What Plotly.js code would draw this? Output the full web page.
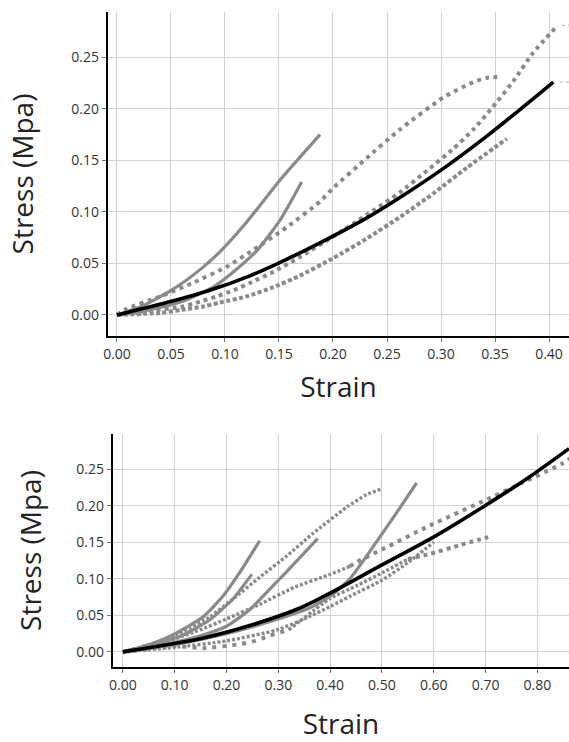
<!DOCTYPE html>
<html>
<head>
<meta charset="utf-8">
<script src="https://cdn.plot.ly/plotly-3.0.1.min.js"></script>
<style>html,body{margin:0;padding:0;background:#fff;}#chart{width:569px;height:742px;}</style>
</head>
<body>
<div id="chart"></div>
<script>
// ---------- Top panel data (strain, stress MPa) ----------
const topT1x = [0, 0.024, 0.052, 0.077, 0.095, 0.120, 0.151, 0.188];
const topT1y = [0, 0.009, 0.025, 0.044, 0.061, 0.090, 0.131, 0.175];
const topT2x = [0, 0.030, 0.060, 0.089, 0.108, 0.130, 0.151, 0.171];
const topT2y = [0, 0.005, 0.013, 0.027, 0.042, 0.063, 0.092, 0.129];
const topT3x = [0, 0.009, 0.040, 0.070, 0.102, 0.126, 0.157, 0.188, 0.200, 0.231, 0.262, 0.302, 0.330, 0.342, 0.352];
const topT3y = [0, 0.006, 0.018, 0.031, 0.047, 0.063, 0.085, 0.110, 0.123, 0.152, 0.180, 0.211, 0.226, 0.230, 0.231];
const topT4x = [0, 0.030, 0.060, 0.077, 0.092, 0.108, 0.123, 0.145, 0.169, 0.200, 0.231, 0.262, 0.287, 0.311, 0.330, 0.348, 0.367, 0.385, 0.408];
const topT4y = [0, 0.004, 0.008, 0.013, 0.018, 0.024, 0.031, 0.042, 0.056, 0.076, 0.097, 0.119, 0.140, 0.161, 0.180, 0.202, 0.227, 0.254, 0.281];
const topT5x = [0, 0.040, 0.060, 0.079, 0.095, 0.120, 0.145, 0.169, 0.200, 0.231, 0.262, 0.293, 0.324, 0.361];
const topT5y = [0, 0.002, 0.005, 0.008, 0.012, 0.018, 0.027, 0.038, 0.055, 0.074, 0.095, 0.118, 0.143, 0.171];
const topFitX = [0, 0.046, 0.086, 0.123, 0.157, 0.188, 0.231, 0.262, 0.302, 0.343, 0.404];
const topFitY = [0, 0.012, 0.024, 0.038, 0.054, 0.070, 0.094, 0.114, 0.142, 0.174, 0.226];
const topExtAx = [0.412, 0.42];
const topExtAy = [0.281, 0.281];
const topExtBx = [0.410, 0.42];
const topExtBy = [0.226, 0.226];

// ---------- Bottom panel data ----------
const botB1x = [0, 0.052, 0.104, 0.155, 0.193, 0.226, 0.264];
const botB1y = [0, 0.010, 0.026, 0.048, 0.076, 0.109, 0.152];
const botB2x = [0, 0.060, 0.116, 0.168, 0.212, 0.249];
const botB2y = [0, 0.010, 0.023, 0.044, 0.072, 0.106];
const botB3x = [0, 0.060, 0.116, 0.168, 0.212, 0.264, 0.316, 0.367, 0.432, 0.470, 0.500];
const botB3y = [0, 0.012, 0.028, 0.048, 0.072, 0.102, 0.131, 0.162, 0.198, 0.215, 0.223];
const botB5x = [0, 0.080, 0.150, 0.200, 0.245, 0.303, 0.376];
const botB5y = [0, 0.010, 0.022, 0.035, 0.058, 0.100, 0.155];
const botB4x = [0, 0.100, 0.200, 0.300, 0.360, 0.400, 0.438, 0.490, 0.528, 0.567];
const botB4y = [0, 0.010, 0.025, 0.045, 0.060, 0.076, 0.100, 0.151, 0.190, 0.231];
const botB6x = [0, 0.050, 0.100, 0.149, 0.200, 0.264, 0.330, 0.400, 0.438];
const botB6y = [0, 0.008, 0.018, 0.030, 0.045, 0.065, 0.088, 0.106, 0.117];
const botB6sx = [0.438, 0.452, 0.500, 0.593, 0.695, 0.761, 0.849, 0.870];
const botB6sy = [0.117, 0.123, 0.140, 0.173, 0.206, 0.228, 0.258, 0.268];
const botB8sx0 = [0, 0.050, 0.100, 0.155, 0.220, 0.250, 0.283, 0.320];
const botB8sy0 = [0, 0.004, 0.008, 0.005, 0.010, 0.014, 0.022, 0.030];
const botB8x = [0.320, 0.400, 0.450, 0.500, 0.550];
const botB8y = [0.030, 0.073, 0.090, 0.108, 0.127];
const botB8sx = [0.550, 0.593, 0.650, 0.705];
const botB8sy = [0.127, 0.134, 0.146, 0.157];
const botB9x = [0, 0.100, 0.200, 0.297, 0.350, 0.400, 0.438, 0.500, 0.550, 0.600];
const botB9y = [0, 0.006, 0.015, 0.030, 0.045, 0.062, 0.076, 0.098, 0.122, 0.150];
const botFitX = [0, 0.052, 0.149, 0.245, 0.342, 0.399, 0.500, 0.602, 0.699, 0.786, 0.861];
const botFitY = [0, 0.006, 0.018, 0.036, 0.060, 0.080, 0.119, 0.158, 0.200, 0.240, 0.278];

const GRAY = '#8a8a8a';
const FONT = 'Open Sans, sans-serif';
const SM = 0.55;

function solid(x, y, ax) {
  return {x, y, xaxis: ax[0], yaxis: ax[1], mode: 'lines', type: 'scatter',
    line: {color: GRAY, width: 3.2, shape: 'spline', smoothing: SM}, hoverinfo: 'skip', showlegend: false};
}
function dotted(x, y, ax, gap) {
  return {x, y, xaxis: ax[0], yaxis: ax[1], mode: 'lines', type: 'scatter',
    line: {color: GRAY, width: 4, shape: 'spline', smoothing: SM, dash: '4px,' + (gap || 4) + 'px'}, hoverinfo: 'skip', showlegend: false};
}
function dense(x, y, ax) {
  return {x, y, xaxis: ax[0], yaxis: ax[1], mode: 'lines', type: 'scatter',
    line: {color: GRAY, width: 3.4, shape: 'spline', smoothing: SM, dash: '3px,2px'}, hoverinfo: 'skip', showlegend: false};
}
function fit(x, y, ax) {
  return {x, y, xaxis: ax[0], yaxis: ax[1], mode: 'lines', type: 'scatter',
    line: {color: '#000', width: 3.6, shape: 'spline', smoothing: 1}, hoverinfo: 'skip', showlegend: false};
}
function ext(x, y, ax) {
  return {x, y, xaxis: ax[0], yaxis: ax[1], mode: 'lines', type: 'scatter',
    line: {color: '#bbbbbb', width: 1.2, dash: '3px,3px'}, hoverinfo: 'skip', showlegend: false};
}

const A = ['x', 'y'], B = ['x2', 'y2'];
const data = [
  ext(topExtAx, topExtAy, A), ext(topExtBx, topExtBy, A),
  dotted(topT3x, topT3y, A, 4.5), dotted(topT4x, topT4y, A, 4), dotted(topT5x, topT5y, A, 2.5),
  solid(topT1x, topT1y, A), solid(topT2x, topT2y, A),
  fit(topFitX, topFitY, A),
  dense(botB3x, botB3y, B), dense(botB6x, botB6y, B), dotted(botB6sx, botB6sy, B, 5),
  dotted(botB8sx0, botB8sy0, B, 6), dense(botB8x, botB8y, B), dotted(botB8sx, botB8sy, B, 4),
  dense(botB9x, botB9y, B),
  solid(botB1x, botB1y, B), solid(botB2x, botB2y, B), solid(botB5x, botB5y, B), solid(botB4x, botB4y, B),
  fit(botFitX, botFitY, B)
];

const tickFont = {family: FONT, size: 14, color: '#333'};
const titleFont = {family: FONT, size: 28, color: '#222'};
function xax(domain, range, dtick, anchor, standoff) {
  return {domain, range, dtick, tick0: 0, anchor, tickformat: '.2f',
    showgrid: true, gridcolor: '#d3d3d3', gridwidth: 1, zeroline: false,
    showline: true, linecolor: '#000', linewidth: 2.2,
    ticks: 'outside', ticklen: 4, tickcolor: '#777', tickwidth: 1,
    tickfont: tickFont, title: {text: 'Strain', font: titleFont, standoff}, fixedrange: true};
}
function yax(domain, range, anchor, standoff) {
  return {domain, range, dtick: 0.05, tick0: 0, anchor, tickformat: '.2f',
    showgrid: true, gridcolor: '#d3d3d3', gridwidth: 1, zeroline: false,
    showline: true, linecolor: '#000', linewidth: 2.2,
    ticks: 'outside', ticklen: 4, tickcolor: '#777', tickwidth: 1,
    tickfont: tickFont, title: {text: 'Stress (Mpa)', font: titleFont, standoff}, fixedrange: true};
}

const layout = {
  width: 569, height: 742,
  margin: {l: 0, r: 0, t: 0, b: 0},
  paper_bgcolor: '#fff', plot_bgcolor: '#fff',
  showlegend: false,
  xaxis: xax([108/569, 1], [-0.0083, 0.4185], 0.05, 'y', 15),
  yaxis: yax([(742-336)/742, (742-12)/742], [-0.0204, 0.294], 'x', 30),
  xaxis2: xax([113/569, 1], [-0.019, 0.861], 0.1, 'y2', 28),
  yaxis2: yax([(742-667)/742, (742-434)/742], [-0.0207, 0.298], 'x2', 27)
};

Plotly.newPlot('chart', data, layout, {displayModeBar: false, staticPlot: true});
</script>
</body>
</html>
